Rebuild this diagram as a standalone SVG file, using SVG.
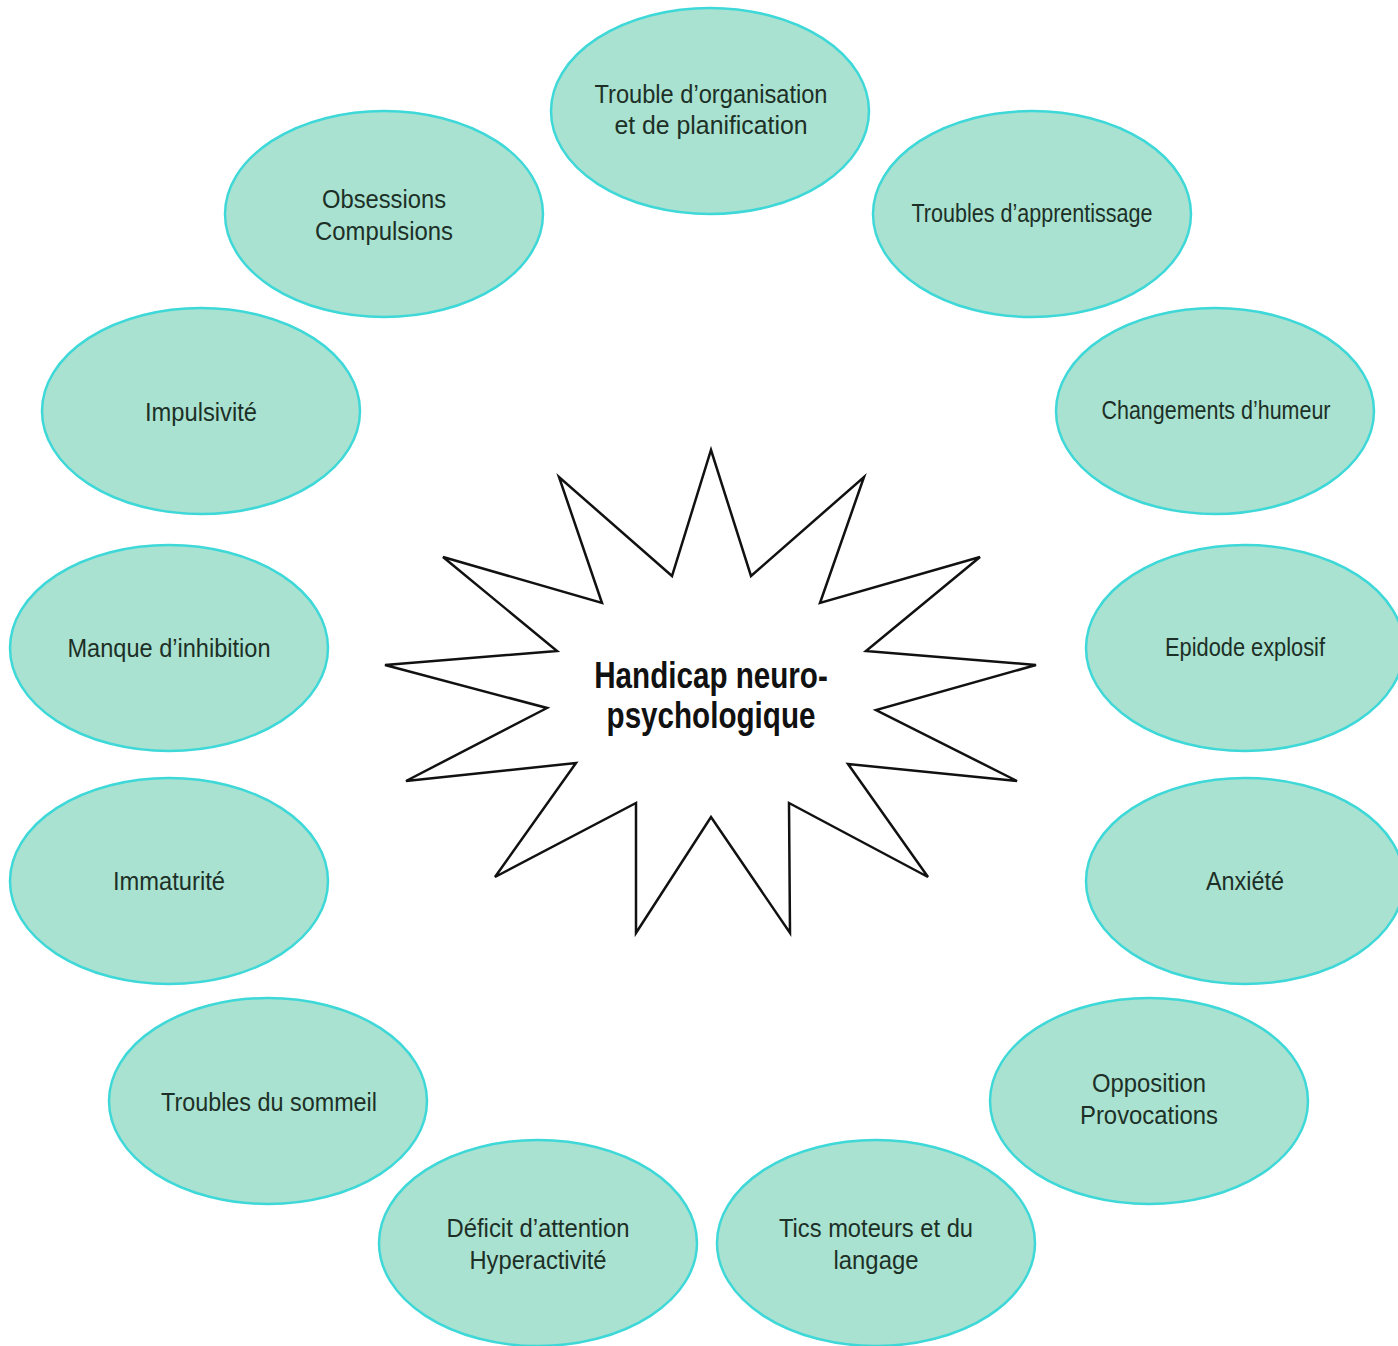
<svg xmlns="http://www.w3.org/2000/svg" width="1398" height="1346" viewBox="0 0 1398 1346">
<style>
.n ellipse{fill:#a9e2d0;stroke:#3fd8d8;stroke-width:2.5}
.n text{font-family:"Liberation Sans",Arial,sans-serif;font-size:26px;fill:#1d3027;text-anchor:middle}
.c text{font-family:"Liberation Sans",Arial,sans-serif;font-size:37px;font-weight:bold;fill:#111;text-anchor:middle}
</style>
<rect width="1398" height="1346" fill="#fff"/>
<g id="center" class="c">
<polygon points="711,450 751,576 864,477 820,603 980,557 866,651 1036,665 876,710 1017,781 848,764 928,877 789,803 790,933 711,817 636,933 636,803 495,877 576,763 406,781 547,708 385,665 557,651 443,557 602,603 559,477 672,576" fill="#fff" stroke="#111" stroke-width="2.5" stroke-linejoin="miter"/>
<text transform="translate(711,688) scale(0.8,1)">Handicap neuro-</text>
<text transform="translate(711,728) scale(0.8,1)">psychologique</text>
</g>
<g id="connectors"></g>
<g id="n1" class="n"><ellipse cx="710" cy="111" rx="159" ry="103"/><text x="711" y="103" textLength="233" lengthAdjust="spacingAndGlyphs">Trouble d’organisation</text><text x="711" y="134" textLength="193" lengthAdjust="spacingAndGlyphs">et de planification</text></g>
<g id="n2" class="n"><ellipse cx="1032" cy="214" rx="159" ry="103"/><text x="1032" y="222" textLength="241" lengthAdjust="spacingAndGlyphs">Troubles d’apprentissage</text></g>
<g id="n3" class="n"><ellipse cx="1215" cy="411" rx="159" ry="103"/><text x="1216" y="419" textLength="229" lengthAdjust="spacingAndGlyphs">Changements d’humeur</text></g>
<g id="n4" class="n"><ellipse cx="1245" cy="648" rx="159" ry="103"/><text x="1245" y="656" textLength="160" lengthAdjust="spacingAndGlyphs">Epidode explosif</text></g>
<g id="n5" class="n"><ellipse cx="1245" cy="881" rx="159" ry="103"/><text x="1245" y="890" textLength="78" lengthAdjust="spacingAndGlyphs">Anxiété</text></g>
<g id="n6" class="n"><ellipse cx="1149" cy="1101" rx="159" ry="103"/><text x="1149" y="1092" textLength="114" lengthAdjust="spacingAndGlyphs">Opposition</text><text x="1149" y="1124" textLength="138" lengthAdjust="spacingAndGlyphs">Provocations</text></g>
<g id="n7" class="n"><ellipse cx="876" cy="1243" rx="159" ry="103"/><text x="876" y="1237" textLength="194" lengthAdjust="spacingAndGlyphs">Tics moteurs et du</text><text x="876" y="1269" textLength="85" lengthAdjust="spacingAndGlyphs">langage</text></g>
<g id="n8" class="n"><ellipse cx="538" cy="1243" rx="159" ry="103"/><text x="538" y="1237" textLength="183" lengthAdjust="spacingAndGlyphs">Déficit d’attention</text><text x="538" y="1269" textLength="137" lengthAdjust="spacingAndGlyphs">Hyperactivité</text></g>
<g id="n9" class="n"><ellipse cx="268" cy="1101" rx="159" ry="103"/><text x="269" y="1111" textLength="216" lengthAdjust="spacingAndGlyphs">Troubles du sommeil</text></g>
<g id="n10" class="n"><ellipse cx="169" cy="881" rx="159" ry="103"/><text x="169" y="890" textLength="112" lengthAdjust="spacingAndGlyphs">Immaturité</text></g>
<g id="n11" class="n"><ellipse cx="169" cy="648" rx="159" ry="103"/><text x="169" y="657" textLength="203" lengthAdjust="spacingAndGlyphs">Manque d’inhibition</text></g>
<g id="n12" class="n"><ellipse cx="201" cy="411" rx="159" ry="103"/><text x="201" y="421" textLength="112" lengthAdjust="spacingAndGlyphs">Impulsivité</text></g>
<g id="n13" class="n"><ellipse cx="384" cy="214" rx="159" ry="103"/><text x="384" y="208" textLength="124" lengthAdjust="spacingAndGlyphs">Obsessions</text><text x="384" y="240" textLength="138" lengthAdjust="spacingAndGlyphs">Compulsions</text></g>
</svg>
